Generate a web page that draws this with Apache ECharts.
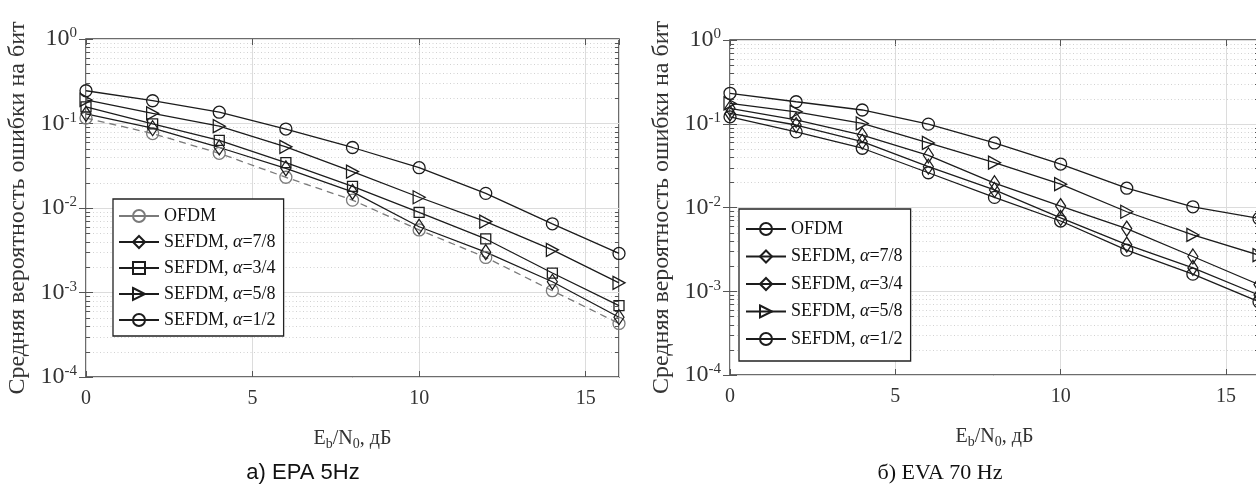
<!DOCTYPE html>
<html>
<head>
<meta charset="utf-8">
<script src="https://cdn.jsdelivr.net/npm/echarts@6/dist/echarts.min.js"></script>
<style>
  html, body { margin: 0; padding: 0; background: #fff; }
  #wrap { position: relative; width: 1256px; height: 486px; overflow: hidden; background: #fff; }
  #left  { position: absolute; left: 0;     top: 0; width: 628px; height: 486px; }
  #right { position: absolute; left: 628px; top: 0; width: 628px; height: 486px; }
</style>
</head>
<body>
<div id="wrap"><div id="left"></div><div id="right"></div></div>
<script>
// Eb/N0 points, dB
const snr = [0, 2, 4, 6, 8, 10, 12, 14, 16];

// EPA 5 Hz: mean bit error probability
const epaOfdm    = [0.116, 0.076, 0.0444, 0.0231, 0.0124, 0.0055, 0.0026, 0.00105, 0.00043];
const epaAlpha78 = [0.13, 0.088, 0.052, 0.0295, 0.0155, 0.006, 0.003, 0.00134, 0.00051];
const epaAlpha34 = [0.157, 0.099, 0.063, 0.0344, 0.018, 0.0089, 0.0043, 0.0017, 0.0007];
const epaAlpha58 = [0.19, 0.132, 0.093, 0.053, 0.027, 0.0134, 0.0069, 0.0032, 0.0013];
const epaAlpha12 = [0.244, 0.186, 0.136, 0.086, 0.052, 0.030, 0.0149, 0.0065, 0.0029];

// EVA 70 Hz: mean bit error probability
const evaOfdm    = [0.121, 0.080, 0.051, 0.026, 0.0132, 0.0069, 0.0031, 0.0016, 0.00075];
const evaAlpha78 = [0.133, 0.0966, 0.061, 0.0307, 0.0162, 0.0075, 0.0036, 0.0019, 0.0009];
const evaAlpha34 = [0.153, 0.111, 0.073, 0.042, 0.0195, 0.0104, 0.0056, 0.0026, 0.0012];
const evaAlpha58 = [0.175, 0.139, 0.101, 0.059, 0.0343, 0.019, 0.0089, 0.0047, 0.0027];
const evaAlpha12 = [0.231, 0.183, 0.146, 0.099, 0.059, 0.033, 0.017, 0.0102, 0.0074];

const seriesNames = ['OFDM', 'SEFDM, α=7/8', 'SEFDM, α=3/4', 'SEFDM, α=5/8', 'SEFDM, α=1/2'];
const xTickStep = 5;
const yAxisTitle = 'Средняя вероятность ошибки на бит';
const xAxisTitle = '{m|E}{sub|b}{m|/N}{sub|0}{m|, дБ}';
const captionLeft = 'а) EPA 5Hz';
const captionRight = 'б) EVA 70 Hz';

const SERIF = '"Liberation Serif", "DejaVu Serif", serif';
const INK = '#1c1c1c';

const SYMBOLS = {
  circle:   { symbol: 'circle', size: 12 },
  square:   { symbol: 'rect', size: 10 },
  diamond:  { symbol: 'path://M5,0L10,8L5,16L0,8Z', size: [10, 15] },
  triangle: { symbol: 'path://M0,0L12,6.5L0,13Z', size: [12, 13] }
};

function lineSeries(name, values, shape, color, dashed) {
  const s = SYMBOLS[shape];
  return {
    type: 'line',
    name: name,
    data: snr.map((x, i) => [x, values[i]]),
    symbol: s.symbol,
    symbolSize: s.size,
    showAllSymbol: true,
    clip: true,
    z: 3,
    itemStyle: { color: 'rgba(255,255,255,0)', borderColor: color, borderWidth: 1.3 },
    lineStyle: { color: color, width: 1.3, type: dashed ? [7, 5] : 'solid' },
    emphasis: { disabled: true }
  };
}

// dotted minor grid rows at 2..9 of every decade, with short inner ticks on both edges
const minorRows = [];
for (let e = -4; e < 0; e++) {
  for (let k = 2; k <= 9; k++) minorRows.push([0, k * Math.pow(10, e)]);
}
function minorGridSeries() {
  return {
    type: 'custom',
    silent: true,
    z: 1,
    data: minorRows,
    renderItem: function (params, api) {
      const cs = params.coordSys;
      const y = Math.round(api.coord([0, api.value(1)])[1]) + 0.5;
      return {
        type: 'group',
        children: [
          { type: 'line', shape: { x1: cs.x, y1: y, x2: cs.x + cs.width, y2: y },
            style: { stroke: '#d2d2d2', lineWidth: 1, lineDash: [1, 2.5] } },
          { type: 'line', shape: { x1: cs.x, y1: y, x2: cs.x + 4, y2: y },
            style: { stroke: '#555', lineWidth: 1 } },
          { type: 'line', shape: { x1: cs.x + cs.width - 4, y1: y, x2: cs.x + cs.width, y2: y },
            style: { stroke: '#555', lineWidth: 1 } }
        ]
      };
    }
  };
}

function legendText(name) {
  return name.replace(/^(.*?)(α)(.*)$/, '{n|$1}{a|$2}{n|$3}').replace(/^([^{].*)$/, '{n|$1}');
}

function buildOption(cfg) {
  return {
    backgroundColor: '#fff',
    animation: false,
    grid: {
      left: cfg.gridLeft, top: cfg.gridTop, width: cfg.gridWidth, height: cfg.gridHeight,
      show: true, borderColor: '#3c3c3c', borderWidth: 1.5, backgroundColor: 'transparent',
      containLabel: false, outerBoundsMode: 'none'
    },
    xAxis: [{
      type: 'value', min: 0, max: 16, interval: xTickStep,
      axisLine: { show: false },
      axisTick: { show: true, inside: true, length: 6, lineStyle: { color: '#555', width: 1 } },
      axisLabel: { fontFamily: SERIF, fontSize: 20, color: '#333', margin: 12, showMaxLabel: false },
      splitLine: { show: true, lineStyle: { color: '#dcdcdc', width: 1 } },
      name: xAxisTitle, nameLocation: 'middle', nameGap: 50,
      nameTextStyle: {
        rich: {
          m: { fontFamily: SERIF, fontSize: 20, color: '#333', lineHeight: 24 },
          sub: { fontFamily: SERIF, fontSize: 14, color: '#333', lineHeight: 12, verticalAlign: 'bottom' }
        }
      }
    }, {
      type: 'value', position: 'top', min: 0, max: 16, interval: xTickStep,
      axisLine: { show: false },
      axisTick: { show: true, inside: true, length: 6, lineStyle: { color: '#555', width: 1 } },
      axisLabel: { show: false }, splitLine: { show: false }
    }],
    yAxis: [{
      type: 'log', logBase: 10, min: 1e-4, max: 1,
      axisLine: { show: false },
      axisTick: { show: true, inside: true, length: 7, lineStyle: { color: '#555', width: 1 } },
      axisLabel: {
        margin: 9,
        formatter: v => '{b|10}{s|' + Math.round(Math.log10(v)) + '}',
        rich: {
          b: { fontFamily: SERIF, fontSize: 24, color: '#333', lineHeight: 26 },
          s: { fontFamily: SERIF, fontSize: 15, color: '#333', lineHeight: 16, verticalAlign: 'top' }
        }
      },
      splitLine: { show: true, lineStyle: { color: '#dcdcdc', width: 1 } },
      name: yAxisTitle, nameLocation: 'middle', nameGap: 49, nameRotate: 90,
      nameTextStyle: { fontFamily: SERIF, fontSize: 24, color: '#333' }
    }, {
      type: 'log', logBase: 10, min: 1e-4, max: 1, position: 'right',
      axisLine: { show: false },
      axisTick: { show: true, inside: true, length: 7, lineStyle: { color: '#555', width: 1 } },
      axisLabel: { show: false }, splitLine: { show: false }
    }],
    legend: {
      orient: 'vertical',
      left: cfg.legendLeft, top: cfg.legendTop,
      data: seriesNames.map(n => (n === 'OFDM' ? { name: n, lineStyle: { type: 'solid' } } : n)),
      selectedMode: false,
      itemWidth: 40, itemHeight: 15, itemGap: cfg.legendGap,
      padding: cfg.legendPadding,
      backgroundColor: '#fff', borderColor: '#222', borderWidth: 1.3, borderRadius: 0,
      formatter: legendText,
      textStyle: {
        fontFamily: SERIF, fontSize: 18, color: '#111', lineHeight: 20,
        rich: {
          n: { fontFamily: SERIF, fontSize: 18, color: '#111' },
          a: { fontFamily: SERIF, fontSize: 18, color: '#111', fontStyle: 'italic' }
        }
      },
      z: 10
    },
    graphic: [{
      type: 'text', x: cfg.captionX, y: 473,
      style: { text: cfg.caption, fontFamily: cfg.captionFont, fontSize: 22, fill: '#111',
               align: 'center', verticalAlign: 'middle' }
    }],
    series: [minorGridSeries()].concat(cfg.series)
  };
}

const leftChart = echarts.init(document.getElementById('left'), null, { renderer: 'canvas' });
leftChart.setOption(buildOption({
  gridLeft: 86, gridTop: 39, gridWidth: 533, gridHeight: 338,
  legendLeft: 113, legendTop: 199, legendGap: 6, legendPadding: [7, 8, 6, 5],
  captionX: 303, caption: captionLeft, captionFont: '"Liberation Sans", Arial, sans-serif',
  series: [
    lineSeries(seriesNames[0], epaOfdm, 'circle', '#7a7a7a', true),
    lineSeries(seriesNames[1], epaAlpha78, 'diamond', INK, false),
    lineSeries(seriesNames[2], epaAlpha34, 'square', INK, false),
    lineSeries(seriesNames[3], epaAlpha58, 'triangle', INK, false),
    lineSeries(seriesNames[4], epaAlpha12, 'circle', INK, false)
  ]
}));

const rightChart = echarts.init(document.getElementById('right'), null, { renderer: 'canvas' });
rightChart.setOption(buildOption({
  gridLeft: 102, gridTop: 40, gridWidth: 529, gridHeight: 335,
  legendLeft: 111, legendTop: 209, legendGap: 7.5, legendPadding: [10, 8, 12, 6],
  captionX: 312, caption: captionRight, captionFont: SERIF,
  series: [
    lineSeries(seriesNames[0], evaOfdm, 'circle', INK, false),
    lineSeries(seriesNames[1], evaAlpha78, 'diamond', INK, false),
    lineSeries(seriesNames[2], evaAlpha34, 'diamond', INK, false),
    lineSeries(seriesNames[3], evaAlpha58, 'triangle', INK, false),
    lineSeries(seriesNames[4], evaAlpha12, 'circle', INK, false)
  ]
}));
</script>
</body>
</html>
